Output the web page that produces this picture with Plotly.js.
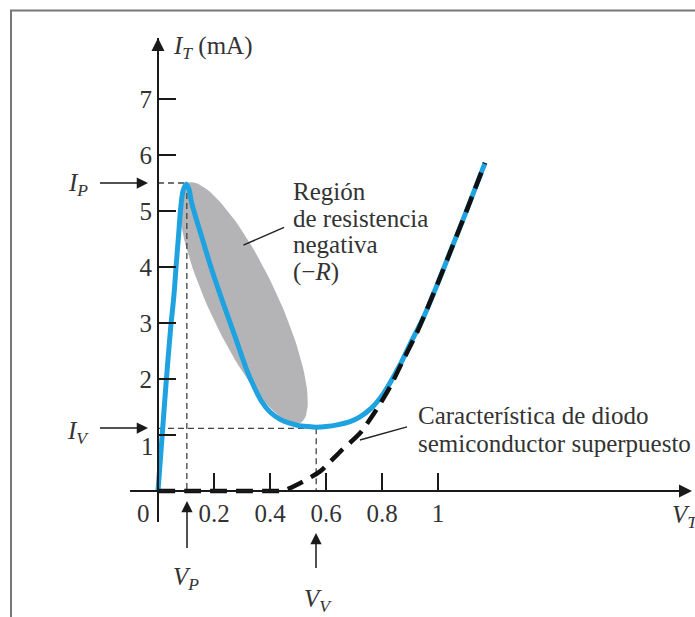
<!DOCTYPE html>
<html>
<head>
<meta charset="utf-8">
<script src="https://cdn.plot.ly/plotly-3.0.1.min.js"></script>
<style>html,body{margin:0;padding:0;background:#fff;}#chart{width:695px;height:617px;}</style>
</head>
<body>
<div id="chart"></div>
<script>
// ---------------- data ----------------
// Tunnel diode characteristic (V_T in V, I_T in mA)
const tunnelV = [0, 0.015, 0.03, 0.045, 0.057, 0.066, 0.074, 0.081, 0.089, 0.1, 0.11, 0.12, 0.137, 0.156, 0.192, 0.233, 0.275, 0.317, 0.345, 0.37, 0.4, 0.436, 0.47, 0.5, 0.535, 0.565, 0.6, 0.64, 0.686, 0.72, 0.76, 0.805, 0.864, 0.9, 0.95, 1.0, 1.05, 1.1, 1.168];
const tunnelI = [0, 1.0, 2.0, 2.9, 3.5, 4.1, 4.6, 5.05, 5.35, 5.48, 5.4, 5.15, 4.85, 4.54, 3.95, 3.35, 2.76, 2.16, 1.84, 1.6, 1.41, 1.28, 1.21, 1.17, 1.15, 1.14, 1.15, 1.18, 1.24, 1.32, 1.47, 1.74, 2.25, 2.62, 3.12, 3.72, 4.35, 4.98, 5.86];
// Superimposed semiconductor diode characteristic
const diodeV = [0, 0.1, 0.2, 0.3, 0.4, 0.45, 0.507, 0.579, 0.65, 0.721, 0.78, 0.829, 0.876, 0.924, 0.95, 1.0, 1.05, 1.1, 1.168];
const diodeI = [0, 0, 0, 0, 0, 0.01, 0.14, 0.35, 0.70, 1.03, 1.45, 1.86, 2.34, 2.82, 3.12, 3.72, 4.35, 4.98, 5.86];
// Peak and valley points
const peakV = 0.103, peakI = 5.5;
const valleyV = 0.565, valleyI = 1.12;
// Negative-resistance region (ellipse tips, data units)
const regionTipA = [0.1036, 5.5];
const regionTipB = [0.507, 1.21];
// Tick labels
const xTickVals = [0.2, 0.4, 0.6, 0.8, 1];
const xTickText = ['0.2', '0.4', '0.6', '0.8', '1'];
const yTickVals = [1, 2, 3, 4, 5, 6, 7];
const yTickText = ['', '2', '3', '4', '5', '6', '7'];

// ---------------- layout geometry ----------------
const W = 695, H = 617;
const M = {l: 130, r: 7, t: 38, b: 95};
const PW = W - M.l - M.r, PH = H - M.t - M.b;
const X0PX = 158, Y0PX = 491, PX_PER_V = 280, PX_PER_I = 56;
const X_MIN = -(X0PX - M.l) / PX_PER_V;
const X_MAX = X_MIN + PW / PX_PER_V;
const Y_MIN = -((H - M.b) - Y0PX) / PX_PER_I;
const Y_MAX = Y_MIN + PH / PX_PER_I;

// pixel -> paper helpers (for decorations outside the plot area)
const pxX = p => (p - M.l) / PW;
const pxY = q => ((H - M.b) - q) / PH;

const SERIF = 'Liberation Serif, Times New Roman, serif';
const TXT = '#333333';
const AXC = '#1a1a1a';
const FS = 25;

function ellipse(tA, tB, halfWpx, n) {
  const sx = PW / (X_MAX - X_MIN), sy = PH / (Y_MAX - Y_MIN);
  const ax = tA[0] * sx, ay = tA[1] * sy, bx = tB[0] * sx, by = tB[1] * sy;
  const cx = (ax + bx) / 2, cy = (ay + by) / 2;
  const dx = (ax - bx) / 2, dy = (ay - by) / 2;
  const a = Math.hypot(dx, dy), ux = dx / a, uy = dy / a, vx = -uy, vy = ux;
  const xs = [], ys = [];
  for (let k = 0; k <= n; k++) {
    const t = 2 * Math.PI * k / n;
    xs.push((cx + a * Math.cos(t) * ux + halfWpx * Math.sin(t) * vx) / sx);
    ys.push((cy + a * Math.cos(t) * uy + halfWpx * Math.sin(t) * vy) / sy);
  }
  return [xs, ys];
}
const [ellX, ellY] = ellipse(regionTipA, regionTipB, 34, 120);

const guide = {color: '#444', width: 1.3, dash: '6px,4px'};
const traces = [
  {x: ellX, y: ellY, mode: 'lines', fill: 'toself', fillcolor: '#b4b4b7', line: {width: 0, color: '#b4b4b7'}, hoverinfo: 'skip'},
  {x: [0, peakV], y: [peakI, peakI], mode: 'lines', line: guide, hoverinfo: 'skip'},
  {x: [peakV, peakV], y: [peakI, 0], mode: 'lines', line: guide, hoverinfo: 'skip'},
  {x: [0, valleyV], y: [valleyI, valleyI], mode: 'lines', line: guide, hoverinfo: 'skip'},
  {x: [valleyV, valleyV], y: [valleyI, 0], mode: 'lines', line: guide, hoverinfo: 'skip'},
  {x: tunnelV, y: tunnelI, mode: 'lines', line: {color: '#1fa3e0', width: 5, shape: 'spline', smoothing: 0.8}, name: 'Diodo túnel'},
  {x: diodeV, y: diodeI, mode: 'lines', line: {color: '#111', width: 4.5, dash: '17px,9px', shape: 'spline', smoothing: 0.6}, name: 'Diodo semiconductor'}
];

function arrow(tipPx, tailPx, w, size) {
  return {xref: 'paper', yref: 'paper', x: pxX(tipPx[0]), y: pxY(tipPx[1]),
    ax: tailPx[0] - tipPx[0], ay: tailPx[1] - tipPx[1], text: ' ',
    showarrow: true, arrowhead: 2, arrowsize: size || 1.5, arrowwidth: w || 1.5, arrowcolor: AXC, standoff: 0, startstandoff: 0};
}
function label(txt, xPx, yPx, xanchor, size) {
  return {xref: 'paper', yref: 'paper', x: pxX(xPx), y: pxY(yPx), text: txt, showarrow: false,
    xanchor: xanchor || 'center', yanchor: 'middle', font: {family: SERIF, size: size || FS, color: TXT}};
}
function leader(p1, p2) {
  return {xref: 'x', yref: 'y', axref: 'x', ayref: 'y', x: p1[0], y: p1[1], ax: p2[0], ay: p2[1], text: ' ',
    showarrow: true, arrowhead: 0, arrowwidth: 1.5, arrowcolor: '#222', standoff: 0};
}

const annotations = [
  arrow([158, 38], [158, 70], 2, 1.3),
  arrow([692, 491], [660, 491], 2, 1.3),
  arrow([148, 183], [97, 183]),
  arrow([148, 428], [97, 428]),
  arrow([187, 501], [187, 558]),
  arrow([316, 533], [316, 578]),
  label('<i>I</i><sub><i>T</i></sub> (mA)', 171, 47, 'left'),
  label('<i>V</i><sub><i>T</i></sub>', 670, 516, 'left'),
  label('0', 143, 513),
  label('1', 147, 446),
  label('<i>I</i><sub><i>P</i></sub>', 78, 184),
  label('<i>I</i><sub><i>V</i></sub>', 78, 432),
  label('<i>V</i><sub><i>P</i></sub>', 186, 578),
  label('<i>V</i><sub><i>V</i></sub>', 318, 600),
  label('Región', 291, 191, 'left'),
  label('de resistencia', 291, 218, 'left'),
  label('negativa', 291, 245, 'left'),
  label('(−<i>R</i>)', 291, 272, 'left'),
  label('Característica de diodo', 416, 415, 'left'),
  label('semiconductor superpuesto', 416, 443, 'left'),
  leader([0.305, 4.39], [0.461, 4.73]),
  leader([0.721, 0.91], [0.9, 1.16])
];

const shapes = [
  {type: 'line', xref: 'paper', yref: 'paper', x0: pxX(10), x1: pxX(700), y0: pxY(10.5), y1: pxY(10.5), line: {color: '#777', width: 2}},
  {type: 'line', xref: 'paper', yref: 'paper', x0: pxX(11), x1: pxX(11), y0: pxY(10), y1: pxY(620), line: {color: '#777', width: 2}}
];

const layout = {
  width: W, height: H, margin: M, showlegend: false,
  paper_bgcolor: '#ffffff', plot_bgcolor: 'rgba(0,0,0,0)',
  xaxis: {range: [X_MIN, X_MAX], anchor: 'free', position: -Y_MIN / (Y_MAX - Y_MIN),
    showline: true, linecolor: AXC, linewidth: 2, showgrid: false, zeroline: false,
    tickmode: 'array', tickvals: xTickVals, ticktext: xTickText, ticks: 'inside', ticklen: 17, tickwidth: 1.5, tickcolor: AXC,
    tickfont: {family: SERIF, size: FS, color: TXT}, fixedrange: true},
  yaxis: {range: [Y_MIN, Y_MAX], anchor: 'free', position: -X_MIN / (X_MAX - X_MIN),
    showline: true, linecolor: AXC, linewidth: 2, showgrid: false, zeroline: false,
    tickmode: 'array', tickvals: yTickVals, ticktext: yTickText, ticks: 'inside', ticklen: 17, tickwidth: 1.5, tickcolor: AXC,
    tickfont: {family: SERIF, size: FS, color: TXT}, fixedrange: true},
  annotations: annotations, shapes: shapes
};

Plotly.newPlot('chart', traces, layout, {staticPlot: true, displayModeBar: false});
</script>
</body>
</html>
